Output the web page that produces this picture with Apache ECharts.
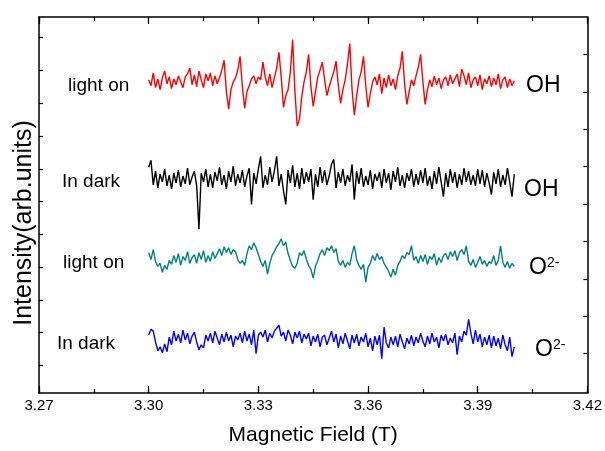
<!DOCTYPE html>
<html>
<head>
<meta charset="utf-8">
<script src="https://cdn.jsdelivr.net/npm/echarts@6/dist/echarts.min.js"></script>
<style>
  html, body { margin: 0; padding: 0; background: #fff; }
  #chart { width: 605px; height: 451px; }
</style>
</head>
<body>
<div id="chart"></div>
<script>
// field axis (T)
const fieldStart = 3.30;
const fieldStep = 0.000625;
const xTicks = [3.27, 3.30, 3.33, 3.36, 3.39, 3.42];

// traces: deviation from each trace's offset (arb. units)
const oh_lightOn = [2,-4,9,-6,3,-8,4,11,-2,5, -7,3,-3,6,0,-6,5,8,14,-3, 7,-5,11,2,-6,8,1,9,-4,6,
  -2,4,12,22,-10,-28,-8,0,4,12, 26,-5,-27,-10,-4,3,6,-2,5,2, 20,5,-4,8,-6,4,14,30,5,-26,
  -14,-8,10,43,-10,-45,-38,-15,0,10, 28,-5,-25,-10,5,12,20,2,-14,-5, 3,10,21,-4,-22,-8,2,18,39,-8,
  -34,-15,2,10,26,-4,-26,-12,0,5, -3,8,-12,4,-6,7,-4,3,-8,6, 14,31,-2,-23,-10,2,-4,6,15,28,
  0,-23,-8,2,-5,6,-3,4,-7,2, 5,-4,7,-2,3,8,-5,13,6,-3, 9,-6,2,5,-4,7,-8,3,-2,6,
  -5,4,-3,8,-7,2,5,-6,3,-4, 1];
const oh_dark = [12,19,-6,8,-9,5,-3,10,-7,4, -10,6,-4,9,-8,3,-5,11,-6,2, 8,-7,-51,6,-3,10,-8,5,-9,7,
  -2,12,-6,4,-10,8,-3,13,-7,5, -4,9,-8,3,11,-26,6,-5,10,23, -9,4,-6,12,-3,8,23,-7,5,-12,
  -26,9,-4,14,-8,6,-10,11,-5,7, -3,10,-21,5,-8,12,-4,9,-6,3, 15,20,-9,7,-4,10,-7,4,-3,15,
  -21,8,-5,11,-8,3,-6,9,-10,5, -2,7,-9,10,-4,6,-11,8,-3,12, -7,4,-9,6,-2,10,-8,5,-6,9,
  -4,11,-7,3,-10,8,-5,12,-3,-18, 6,-8,10,-4,7,-9,5,-6,11,-3, 8,-6,4,-7,10,-5,9,-8,6,-4,
  -16,7,-5,10,-8,4,-6,11,-3,-18, 5];
const o2_lightOn = [5,-2,8,-4,-9,-6,-15,-8,-12,-3, -7,2,-5,4,-8,1,-3,6,-6,0, 3,-6,5,-2,7,-5,2,-4,6,-1,
  4,9,2,11,5,10,3,8,6,-2, -6,-3,-8,4,12,8,15,10,3,-4, -9,-3,-17,-6,2,6,11,14,19,12,
  16,4,-3,-9,-11,-6,5,2,7,-2, -8,-12,-21,-9,-3,4,8,2,10,7, 12,5,9,-4,-8,-3,-10,-5,-8,4,
  12,-2,-8,-12,-7,-25,-10,-6,2,-3, 4,-2,1,-6,-10,-14,-20,-12,-18,-8, -4,2,-1,5,3,12,-3,1,-6,2,
  -4,3,-7,1,-2,4,-8,0,-5,2, 4,-2,6,1,7,-3,5,8,3,12, -4,-8,-2,-10,-5,1,-7,-3,-9,-4,
  -6,2,-8,-3,12,-5,-10,-4,-11,-6, -9];
const o2_dark = [4,10,8,-3,-12,-8,-14,-5,-13,2, -6,8,-2,5,-4,9,-1,6,-5,3, 7,-3,-11,-6,-9,4,-2,6,-4,8,
  1,-6,5,-3,7,-2,4,-8,3,-1, 6,-4,8,-2,5,-6,9,-15,4,7, 2,9,-3,6,1,8,11,14,3,7,
  -2,9,4,-5,7,1,8,-4,5,0, 6,-7,3,-3,5,-8,2,4,-6,1, 8,-3,5,-9,3,-5,6,-2,-10,4,
  -4,5,-7,2,-3,6,-8,1,-12,3, -6,4,-20,12,-4,-9,2,-6,3,-8, 5,-3,-10,1,-5,4,-7,2,-4,6,
  -2,-8,3,-5,6,-3,2,-9,4,-2, 5,-6,1,-4,6,-16,3,-3,8,4, 20,6,-5,9,-3,5,-8,2,-6,4,
  -9,3,-7,1,-10,4,-6,-12,2,-18, -8];

const traceNames = ['light on OH', 'In dark OH', 'light on O2-', 'In dark O2-'];
const traceData = [oh_lightOn, oh_dark, o2_lightOn, o2_dark];
const traceOffsets = [317, 218, 138, 55];
const traceColors = ['#ff0000', '#000000', '#008080', '#0000ff'];

const leftTicks = [28, 61.4, 94.8, 128.2, 161.6, 195, 228.4, 261.8, 295.2, 328.6, 362];
const rightTicks = [40, 78.1, 116.2, 154.3, 192.4, 230.5, 268.6, 306.7, 344.8];

const font = "'Liberation Sans', Arial, sans-serif";

const chart = echarts.init(document.getElementById('chart'));

const series = traceData.map((vals, k) => ({
  name: traceNames[k],
  type: 'line',
  showSymbol: false,
  animation: false,
  sampling: 'none',
  lineStyle: { color: traceColors[k], width: 1.4 },
  data: vals.map((v, i) => [fieldStart + i * fieldStep, traceOffsets[k] + v])
}));

const tickStyle = { color: '#000', width: 1.2 };

// one x axis per tick size and side
function fieldAxis(position, interval, tickLen, withLine, withLabels) {
  const ax = {
    type: 'value',
    position: position,
    min: xTicks[0],
    max: xTicks[xTicks.length - 1],
    interval: interval,
    axisLine: { show: withLine, onZero: false, lineStyle: { color: '#000', width: 1.5 } },
    axisTick: { show: true, inside: true, length: tickLen, lineStyle: tickStyle },
    splitLine: { show: false },
    axisLabel: { show: false }
  };
  if (withLabels) {
    ax.axisLabel = {
      show: true, margin: 5, color: '#000', fontSize: 15, fontFamily: font,
      formatter: v => v.toFixed(2)
    };
    ax.name = 'Magnetic Field (T)';
    ax.nameLocation = 'middle';
    ax.nameGap = 32;
    ax.nameTextStyle = { color: '#000', fontSize: 21, fontFamily: font };
  }
  return ax;
}

const option = {
  backgroundColor: '#fff',
  animation: false,
  grid: { left: 39, right: 17, top: 17, bottom: 51 },
  xAxis: [
    fieldAxis('bottom', 0.03, 7, true, true),
    fieldAxis('bottom', 0.015, 4, false, false),
    fieldAxis('top', 0.03, 7, true, false),
    fieldAxis('top', 0.015, 4, false, false)
  ],
  yAxis: [{
    type: 'value',
    min: 0,
    max: 383,
    axisLine: { show: true, lineStyle: { color: '#000', width: 1.5 } },
    axisTick: { show: true, inside: true, length: 4, customValues: leftTicks, lineStyle: tickStyle },
    axisLabel: { show: false },
    splitLine: { show: false }
  }, {
    type: 'value',
    position: 'right',
    min: 0,
    max: 383,
    axisLine: { show: true, lineStyle: { color: '#000', width: 1.5 } },
    axisTick: { show: true, inside: true, length: 4, customValues: rightTicks, lineStyle: tickStyle },
    axisLabel: { show: false },
    splitLine: { show: false }
  }],
  graphic: [
    { type: 'text', x: 24, y: 223, rotation: Math.PI / 2,
      style: { text: 'Intensity(arb.units)', font: '25px ' + font, fill: '#000', align: 'center', verticalAlign: 'middle' } },
    { type: 'text', x: 68, y: 86, style: { text: 'light on', font: '19px ' + font, fill: '#000', verticalAlign: 'middle' } },
    { type: 'text', x: 62, y: 182, style: { text: 'In dark', font: '19px ' + font, fill: '#000', verticalAlign: 'middle' } },
    { type: 'text', x: 63, y: 263, style: { text: 'light on', font: '19px ' + font, fill: '#000', verticalAlign: 'middle' } },
    { type: 'text', x: 57, y: 344, style: { text: 'In dark', font: '19px ' + font, fill: '#000', verticalAlign: 'middle' } },
    { type: 'text', x: 526, y: 86, style: { text: 'OH', font: '23px ' + font, fill: '#000', verticalAlign: 'middle' } },
    { type: 'text', x: 524, y: 190, style: { text: 'OH', font: '23px ' + font, fill: '#000', verticalAlign: 'middle' } },
    { type: 'text', x: 529, y: 268, style: {
      text: '{b|O}{s|2-}', verticalAlign: 'middle', fill: '#000',
      rich: { b: { fontSize: 23, fontFamily: font }, s: { fontSize: 14, fontFamily: font, verticalAlign: 'top' } } } },
    { type: 'text', x: 535, y: 350, style: {
      text: '{b|O}{s|2-}', verticalAlign: 'middle', fill: '#000',
      rich: { b: { fontSize: 23, fontFamily: font }, s: { fontSize: 14, fontFamily: font, verticalAlign: 'top' } } } }
  ],
  series: series
};

chart.setOption(option);
window.addEventListener('resize', () => chart.resize());
</script>
</body>
</html>
